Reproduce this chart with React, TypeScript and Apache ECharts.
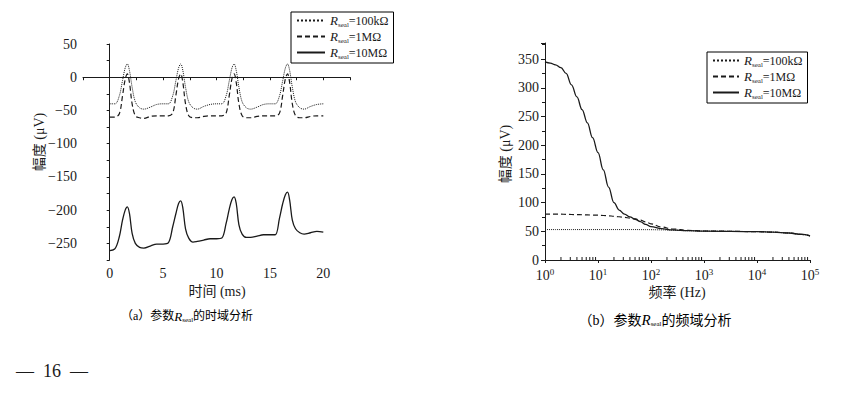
import React, { useEffect, useRef } from "react";
import * as echarts from "echarts";

// ---------- Data: (a) time domain ----------
const timeMs = [
  0, 0.5, 0.9, 1.2, 1.45, 1.65, 1.85, 2.1, 2.4, 2.8, 3.2, 3.8, 4.4,
  5.0, 5.5, 5.9, 6.2, 6.45, 6.65, 6.85, 7.1, 7.4, 7.8, 8.2, 8.8, 9.4,
  10.0, 10.5, 10.9, 11.2, 11.45, 11.65, 11.85, 12.1, 12.4, 12.8, 13.2, 13.8, 14.4,
  15.0, 15.5, 15.9, 16.2, 16.45, 16.65, 16.85, 17.1, 17.4, 17.8, 18.2, 18.8, 19.4, 20.0,
];
const time100k = [
  -40, -40, -28, -5, 14, 20, 10, -15, -37, -46, -48, -45, -41,
  -40, -40, -28, -5, 14, 20, 10, -15, -37, -46, -48, -44, -41,
  -40, -40, -28, -5, 14, 20, 10, -15, -37, -46, -48, -45, -41,
  -40, -40, -28, -5, 14, 20, 10, -15, -37, -46, -48, -44, -41, -40,
];
const time1M = [
  -60, -60, -55, -28, -3, 5, -8, -40, -58, -61, -62, -59, -58,
  -58, -58, -54, -27, -2, 5, -8, -40, -58, -61, -61, -59, -58,
  -58, -58, -54, -27, -2, 5, -8, -40, -58, -61, -61, -59, -58,
  -58, -58, -54, -27, -2, 5, -8, -40, -58, -61, -61, -59, -58, -58,
];
const time10M = [
  -261, -258, -240, -215, -200, -195, -205, -235, -250, -256, -257, -254, -251,
  -251, -249, -225, -205, -190, -186, -197, -228, -242, -248, -247, -245, -243,
  -243, -242, -220, -198, -184, -180, -190, -222, -236, -241, -241, -239, -237,
  -237, -237, -212, -190, -177, -173, -185, -215, -228, -234, -236, -234, -232, -233,
];
const timeTickLabels = [0, 5, 10, 15, 20];

// ---------- Data: (b) frequency domain ----------
const freqHz = [
  1, 1.26, 1.58, 2, 2.5, 3.16, 4, 5, 6.3, 7.9, 10, 12.6, 15.8, 20, 25, 31.6, 40, 50, 63, 79, 100,
  158, 251, 500, 1000, 10000, 20000, 40000, 70000, 100000,
];
const freq100k = [
  53, 53, 53, 53, 53, 53, 53, 53, 53, 53, 53, 53, 53, 53, 53, 53, 53, 53, 52.9, 52.9, 52.8,
  52.5, 52, 51, 50.3, 49.5, 48.5, 47, 44.5, 42,
];
const freq1M = [
  80, 80, 80, 79.8, 79.5, 79.3, 79, 78.8, 78.5, 78.2, 78, 77.5, 77, 76.2, 75.3, 74.3, 73, 71.5, 69.5, 66.5, 63,
  57.5, 54, 51.5, 50.5, 49.5, 48.5, 47, 44.5, 42,
];
const freq10M = [
  345, 343, 340, 335, 325, 305, 284, 262, 239, 213, 187, 157, 127, 100, 87, 80, 75, 71, 67, 62, 58,
  54.5, 52.5, 51, 50.3, 49.5, 48.5, 47, 44.5, 42,
];
const decadeMultipliers = [2, 3, 4, 5, 6, 7, 8, 9];
const decades = [1, 10, 100, 1000, 10000];
const minorFreqs = decades.flatMap((d) => decadeMultipliers.map((m) => m * d));

const seriesNames = ["100kΩ", "1MΩ", "10MΩ"];

const SERIF = '"Liberation Serif", "Noto Sans CJK SC", serif';
const INK = "#1a1a1a";

const richLegend = {
  r: { fontFamily: SERIF, fontStyle: "italic", fontSize: 13, color: INK },
  s: { fontFamily: SERIF, fontSize: 7, color: INK, padding: [8, 0, 0, 0] },
  t: { fontFamily: SERIF, fontSize: 12, color: INK },
};

function legendCfg(left: number, top: number, itemWidth: number) {
  return {
    left,
    top,
    orient: "vertical",
    data: seriesNames,
    selectedMode: false,
    borderColor: "#000",
    borderWidth: 1,
    borderRadius: 0,
    padding: [2, 5, 3, 5],
    itemGap: 2,
    itemWidth,
    itemHeight: 15,
    itemStyle: { opacity: 0 },
    formatter: (n: string) => `{r|R}{s|seal}{t|=${n}}`,
    textStyle: { rich: richLegend, fontFamily: SERIF, color: INK },
  };
}

const lineStyles = [
  { type: "dotted", width: 1, color: INK },
  { type: [5, 3], width: 1.2, color: INK },
  { type: "solid", width: 1.3, color: INK },
];

function pair(xs: number[], ys: number[]) {
  return xs.map((x, i) => [x, ys[i]]);
}

function caption(x: number, y: number, letter: string, tail: string, size: number) {
  return {
    type: "text",
    x,
    y,
    style: {
      text: `{a|（${letter}）参数}{r|R}{s|seal}{a|${tail}}`,
      align: "center",
      verticalAlign: "middle",
      rich: {
        a: { fontFamily: SERIF, fontSize: size, color: INK },
        r: { fontFamily: SERIF, fontSize: size + 1, fontStyle: "italic", color: INK },
        s: { fontFamily: SERIF, fontSize: 7, color: INK, padding: [8, 0, 0, 0] },
      },
    },
  };
}

export default function App() {
  const ref = useRef<HTMLDivElement>(null);
  useEffect(() => {
    if (!ref.current) return;
    const chart = echarts.init(ref.current, null, { renderer: "svg" });
    const axisLabel = { fontFamily: SERIF, fontSize: 14, color: INK };
    const axisLine = { show: true, lineStyle: { color: INK, width: 1 } };
    const timeSets = [time100k, time1M, time10M];
    const freqSets = [freq100k, freq1M, freq10M];
    const titleFont = `14px ${SERIF}`;
    const option: any = {
      animation: false,
      backgroundColor: "#fff",
      grid: [
        { left: 83, top: 44, width: 267, height: 216 },
        { left: 545, top: 43, width: 265, height: 217 },
      ],
      xAxis: [
        {
          gridIndex: 0,
          type: "value",
          min: -2.5,
          max: 22.5,
          interval: 2.5,
          axisLine,
          axisTick: { show: true, inside: false, length: 3, lineStyle: { color: INK } },
          splitLine: { show: false },
          axisLabel: {
            ...axisLabel,
            margin: 6,
            formatter: (v: number) => (timeTickLabels.includes(v) ? String(v) : ""),
          },
        },
        {
          gridIndex: 1,
          type: "log",
          logBase: 10,
          min: 1,
          max: 100000,
          axisLine,
          axisTick: { show: true, inside: false, length: 3, lineStyle: { color: INK } },
          splitLine: { show: false },
          axisLabel: {
            ...axisLabel,
            margin: 7,
            formatter: (v: number) => `{b|10}{e|${Math.round(Math.log10(v))}}`,
            rich: {
              b: { fontFamily: SERIF, fontSize: 14, color: INK },
              e: { fontFamily: SERIF, fontSize: 9, color: INK, padding: [0, 0, 7, 0] },
            },
          },
        },
      ],
      yAxis: [
        {
          gridIndex: 0,
          type: "value",
          min: -275,
          max: 50,
          interval: 25,
          axisLine,
          axisTick: { show: true, inside: false, length: 3, lineStyle: { color: INK } },
          splitLine: { show: false },
          axisLabel: {
            ...axisLabel,
            margin: 6,
            formatter: (v: number) => (v % 50 === 0 ? String(v).replace("-", "−") : ""),
          },
        },
        {
          gridIndex: 1,
          type: "value",
          min: 0,
          max: 378,
          interval: 50,
          axisLine,
          axisTick: { show: true, inside: false, length: 4, lineStyle: { color: INK } },
          minorTick: { show: true, splitNumber: 2, length: 3, lineStyle: { color: INK } },
          splitLine: { show: false },
          axisLabel: {
            ...axisLabel,
            margin: 6,
            formatter: (v: number) => (v % 50 === 0 ? String(v) : ""),
          },
        },
      ],
      legend: [legendCfg(291, 12, 28), legendCfg(707, 52, 26)],
      series: [
        ...seriesNames.map((name, i) => ({
          name,
          type: "line",
          xAxisIndex: 0,
          yAxisIndex: 0,
          data: pair(timeMs, timeSets[i]),
          showSymbol: false,
          symbol: "none",
          smooth: 0.35,
          lineStyle: lineStyles[i],
          itemStyle: { color: INK },
        })),
        ...seriesNames.map((name, i) => ({
          name,
          type: "line",
          xAxisIndex: 1,
          yAxisIndex: 1,
          data: pair(freqHz, freqSets[i]),
          showSymbol: false,
          symbol: "none",
          smooth: 0.4,
          smoothMonotone: "x",
          lineStyle: lineStyles[i],
          itemStyle: { color: INK },
        })),
        {
          type: "custom",
          xAxisIndex: 1,
          yAxisIndex: 1,
          clip: false,
          silent: true,
          data: minorFreqs.map((f) => [f, 0]),
          renderItem: (_p: any, api: any) => {
            const pt = api.coord([api.value(0), 0]);
            return {
              type: "line",
              shape: { x1: pt[0], y1: pt[1], x2: pt[0], y2: pt[1] - 3 },
              style: { stroke: INK, lineWidth: 1 },
            };
          },
        },
      ],
      graphic: [
        {
          type: "text",
          x: 39,
          y: 142,
          rotation: Math.PI / 2,
          style: { text: "幅度 (μV)", font: titleFont, fill: INK, align: "center", verticalAlign: "middle" },
        },
        {
          type: "text",
          x: 505,
          y: 154,
          rotation: Math.PI / 2,
          style: { text: "幅度 (μV)", font: titleFont, fill: INK, align: "center", verticalAlign: "middle" },
        },
        {
          type: "text",
          x: 217,
          y: 291,
          style: { text: "时间 (ms)", font: titleFont, fill: INK, align: "center", verticalAlign: "middle" },
        },
        {
          type: "text",
          x: 677,
          y: 292,
          style: { text: "频率 (Hz)", font: titleFont, fill: INK, align: "center", verticalAlign: "middle" },
        },
        caption(187, 316, "a", "的时域分析", 12),
        caption(655, 320, "b", "的频域分析", 14),
        {
          type: "text",
          x: 52,
          y: 371,
          style: { text: "—  16  —", font: `18px ${SERIF}`, fill: INK, align: "center", verticalAlign: "middle" },
        },
      ],
    };
    chart.setOption(option);
    return () => chart.dispose();
  }, []);
  return (
    <div
      ref={ref}
      style={{ position: "fixed", left: 0, top: 0, width: 863, height: 394, background: "#fff" }}
    />
  );
}
